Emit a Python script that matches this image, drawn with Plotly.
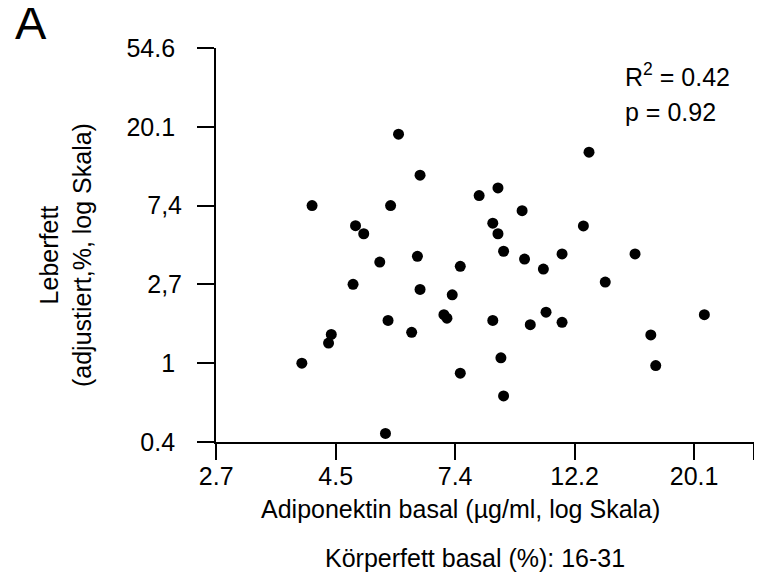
import math
import plotly.graph_objects as go

# Data (original units, both axes log-scaled)
adiponektin = [3.89, 4.06, 4.35, 4.40, 4.82, 4.87, 5.04, 5.39, 5.52, 5.58,
               5.64, 5.83, 6.16, 6.31, 6.38, 6.38, 7.05, 7.14, 7.30, 7.55,
               7.55, 8.17, 8.65, 8.65, 8.84, 8.84, 8.95, 9.05, 9.05, 9.78,
               9.88, 10.12, 10.69, 10.81, 11.56, 11.56, 12.64, 12.94, 13.85, 15.69,
               16.76, 17.11, 20.97]
leberfett = [1.00, 7.39, 1.29, 1.44, 2.72, 5.73, 5.17, 3.61, 0.41, 1.72,
             7.39, 18.30, 1.48, 3.88, 10.87, 2.55, 1.85, 1.77, 2.38, 3.42,
             0.88, 8.39, 5.91, 1.72, 9.25, 5.17, 1.07, 4.14, 0.66, 6.93,
             3.75, 1.63, 3.30, 1.91, 4.00, 1.68, 5.71, 14.56, 2.80, 4.00,
             1.43, 0.97, 1.85]

x_tick_exponents = [1, 1.5, 2, 2.5, 3, 3.25]
x_tick_labels = ["2.7", "4.5", "7.4", "12.2", "20.1", "\u00a0"]
y_tick_exponents = [-1, 0, 1, 2, 3, 4]
y_tick_labels = ["0.4\u00a0", "1\u00a0", "2,7", "7,4", "20.1\u00a0", "54.6\u00a0"]

FONT = "Liberation Sans, Arial, sans-serif"
FS = 25

# the page body adds an 8px offset; work in page pixels and compensate
OFF = 8
PAGE_W, PAGE_H = 762, 577
W, H = PAGE_W - OFF, PAGE_H - OFF
PLOT_L, PLOT_R, PLOT_T, PLOT_B = 216, 757.7, 48.3, 441.7  # page pixels
L = PLOT_L - OFF
R = W - (PLOT_R - OFF)
T = PLOT_T - OFF
B = H - (PLOT_B - OFF)
PW, PH = W - L - R, H - T - B


def px_to_paper(px, py):
    fx, fy = px - OFF, py - OFF
    return (fx - L) / PW, (H - B - fy) / PH


fig = go.Figure()
fig.add_trace(go.Scatter(
    x=adiponektin, y=leberfett, mode="markers",
    marker=dict(color="black", size=11, line=dict(width=0)),
    showlegend=False, hoverinfo="x+y",
))

eps = 0.0004
fig.update_xaxes(
    type="log",
    range=[x_tick_exponents[0] * math.log10(math.e) - eps,
           x_tick_exponents[-1] * math.log10(math.e) + eps],
    tickmode="array",
    tickvals=[math.exp(k) for k in x_tick_exponents],
    ticktext=x_tick_labels,
    ticks="outside", ticklen=16, tickwidth=2, tickcolor="black",
    showline=True, linewidth=2, linecolor="black",
    showgrid=False, zeroline=False,
    tickfont=dict(family=FONT, size=FS, color="black"),
    ticklabelstandoff=-5,
)
fig.update_yaxes(
    type="log",
    range=[y_tick_exponents[0] * math.log10(math.e) - eps,
           y_tick_exponents[-1] * math.log10(math.e) + eps],
    tickmode="array",
    tickvals=[math.exp(k) for k in y_tick_exponents],
    ticktext=y_tick_labels,
    ticks="outside", ticklen=17, tickwidth=2, tickcolor="black",
    showline=True, linewidth=2, linecolor="black",
    showgrid=False, zeroline=False,
    tickfont=dict(family=FONT, size=FS, color="black"),
    ticklabelstandoff=10,
)

annotations = []


def add_text(text, px, py, xanchor="center", size=FS, angle=0):
    x, y = px_to_paper(px, py)
    annotations.append(dict(
        text=text, x=x, y=y, xref="paper", yref="paper",
        xanchor=xanchor, yanchor="middle", showarrow=False,
        textangle=angle, font=dict(family=FONT, size=size, color="black"),
    ))


add_text("A", 30, 23, size=47)
add_text("R<sup>2</sup> = 0.42", 626, 75, xanchor="left")
add_text("p = 0.92", 626, 112, xanchor="left")
add_text("Adiponektin basal (µg/ml, log Skala)", 462, 509)
add_text("Körperfett basal (%): 16-31", 476.5, 558)
add_text("Leberfett<br>(adjustiert,%, log Skala)", 64, 255, angle=-90)

fig.update_layout(
    width=W, height=H,
    margin=dict(l=L, r=R, t=T, b=B, pad=0),
    paper_bgcolor="white", plot_bgcolor="white",
    annotations=annotations,
    font=dict(family=FONT, size=FS, color="black"),
)

fig.write_html("out.html")
